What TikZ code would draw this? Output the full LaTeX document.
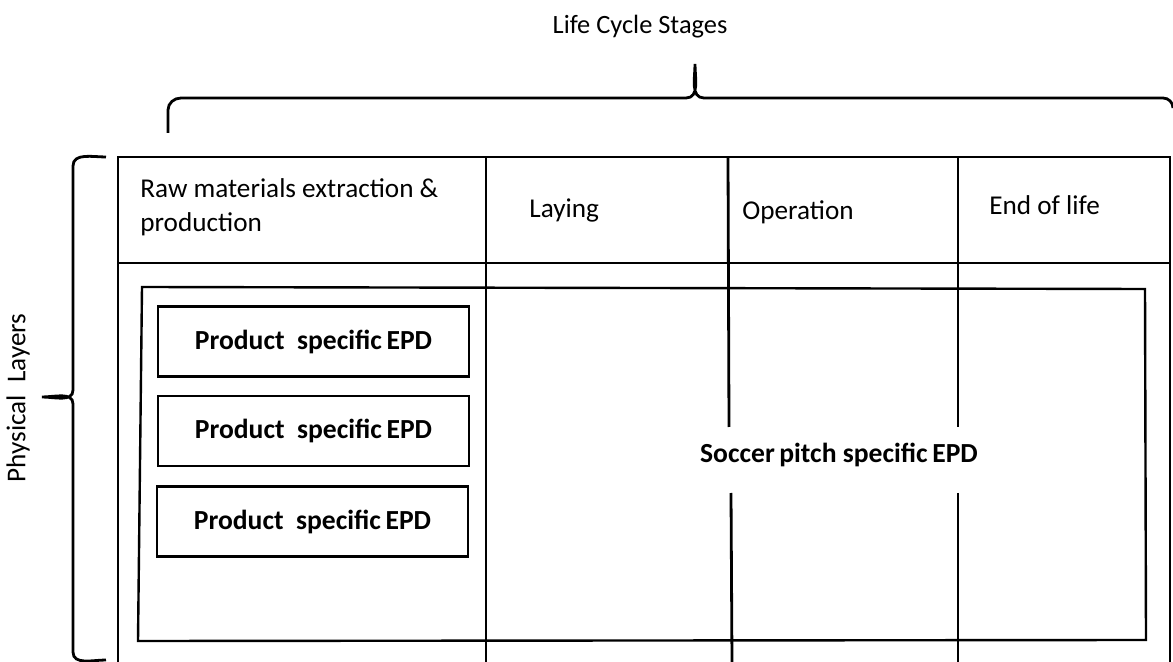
\documentclass[tikz,border=0pt]{standalone}
\usepackage{fontspec}
\setmainfont{Carlito}
\tikzset{
  ln/.style={line width=1.4pt, line cap=butt},
  thin ln/.style={line width=1.2pt},
  hdr/.style={font=\fontsize{13.6}{17}\selectfont, inner sep=0pt},
  epd/.style={font=\fontsize{13.8}{16}\selectfont\bfseries, inner sep=0pt},
  pbox/.style={draw, line width=1.3pt, minimum width=155.5pt, minimum height=35pt, inner sep=0pt, epd},
}
\begin{document}
\begin{tikzpicture}[x=0.5pt,y=-0.5pt]
\useasboundingbox (0,0) rectangle (1173,662);
% outer table
\draw[ln] (118,662) -- (118,157) -- (1170,157) -- (1170,662);
\draw[ln] (118,263) -- (1170,263);
\draw[ln] (486,157) -- (486,662);
\draw[ln] (728,157) -- (729,427);
\draw[ln] (731,493) -- (732,662);
\draw[ln] (958,157) -- (958,427);
\draw[ln] (958,493) -- (958,662);
% inner rectangle
\draw[thin ln] (142,287) -- (1145,289) -- (1146,640) -- (138,641) -- cycle;
% top brace
\draw[ln] (168,133) -- (168,110) to[out=90,in=180] (181,98) -- (686,98)
  to[out=0,in=-90] (695,64) to[out=-90,in=180] (704,98) -- (1163,98)
  to[out=0,in=90] (1173,108);
% left brace
\draw[ln] (106,157) to[out=180,in=90] (73,166) -- (73,390)
  to[out=-90,in=0] (42,397) to[out=0,in=90] (73,404) -- (73,652)
  to[out=-90,in=180] (106,660);
% texts
\node[font=\fontsize{13.2}{17}\selectfont, inner sep=0pt] (lcs) at (640,27) {Life Cycle Stages};
\node[hdr, rotate=90] (pl) at (18,398) {Physical\ \ Layers};
\node[hdr, anchor=base west] (raw) at (140,198) {Raw materials extraction \&};
\node[hdr, anchor=base west] (raw2) at (140,232) {production};
\node[hdr, anchor=base west] (lay) at (529,218) {Laying};
\node[hdr, anchor=base west] (op) at (742,220) {Operation};
\node[hdr, anchor=base west] (eol) at (989,215) {End of life};
% product boxes
\node[pbox] (p1) at (313.5,341.5) {Product\ \ specific\,EPD};
\node[pbox] (p2) at (313.5,431) {Product\ \ specific\,EPD};
\node[pbox] (p3) at (312.5,521.5) {Product\ \ specific\,EPD};
\node[epd, anchor=base] (sp) at (839,463) {Soccer\,pitch specific\,EPD};
\end{tikzpicture}
\end{document}
